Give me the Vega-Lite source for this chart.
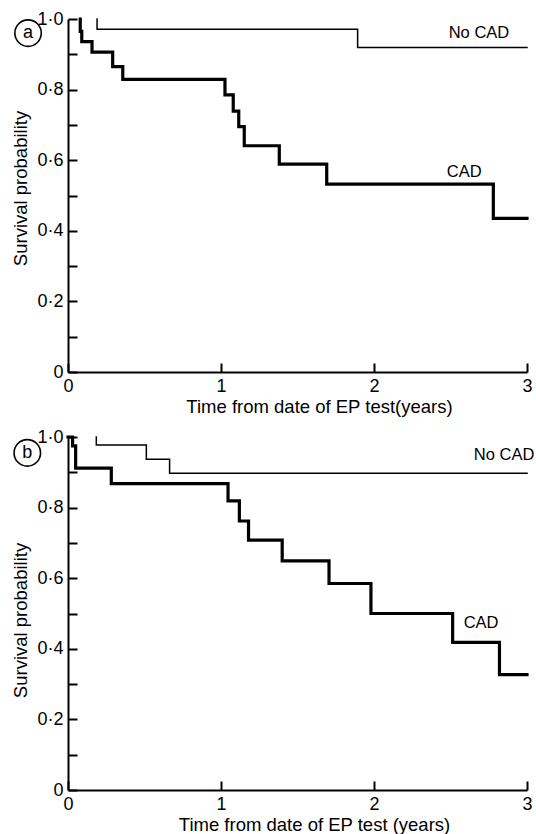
{
  "$schema": "https://vega.github.io/schema/vega-lite/v6.json",
  "background": "white",
  "padding": {"left": 10, "top": 10, "right": 0, "bottom": 0},
  "spacing": 65,
  "bounds": "flush",
  "datasets": {
    "curves": [
      {"panel": "a", "group": "CAD", "t": 0.08, "p": 1.0},
      {"panel": "a", "group": "CAD", "t": 0.08, "p": 0.965},
      {"panel": "a", "group": "CAD", "t": 0.09, "p": 0.936},
      {"panel": "a", "group": "CAD", "t": 0.157, "p": 0.906},
      {"panel": "a", "group": "CAD", "t": 0.292, "p": 0.865},
      {"panel": "a", "group": "CAD", "t": 0.358, "p": 0.829},
      {"panel": "a", "group": "CAD", "t": 1.026, "p": 0.785},
      {"panel": "a", "group": "CAD", "t": 1.08, "p": 0.739},
      {"panel": "a", "group": "CAD", "t": 1.116, "p": 0.695},
      {"panel": "a", "group": "CAD", "t": 1.152, "p": 0.641},
      {"panel": "a", "group": "CAD", "t": 1.381, "p": 0.589},
      {"panel": "a", "group": "CAD", "t": 1.691, "p": 0.532},
      {"panel": "a", "group": "CAD", "t": 2.78, "p": 0.435},
      {"panel": "a", "group": "CAD", "t": 3.0, "p": 0.435},
      {"panel": "a", "group": "No CAD", "t": 0.19, "p": 1.0},
      {"panel": "a", "group": "No CAD", "t": 0.19, "p": 0.971},
      {"panel": "a", "group": "No CAD", "t": 1.893, "p": 0.919},
      {"panel": "a", "group": "No CAD", "t": 3.0, "p": 0.919},
      {"panel": "b", "group": "CAD", "t": 0.0, "p": 1.0},
      {"panel": "b", "group": "CAD", "t": 0.03, "p": 0.975},
      {"panel": "b", "group": "CAD", "t": 0.05, "p": 0.912},
      {"panel": "b", "group": "CAD", "t": 0.283, "p": 0.868},
      {"panel": "b", "group": "CAD", "t": 1.046, "p": 0.819},
      {"panel": "b", "group": "CAD", "t": 1.12, "p": 0.762},
      {"panel": "b", "group": "CAD", "t": 1.18, "p": 0.708},
      {"panel": "b", "group": "CAD", "t": 1.4, "p": 0.649},
      {"panel": "b", "group": "CAD", "t": 1.706, "p": 0.585},
      {"panel": "b", "group": "CAD", "t": 1.98, "p": 0.5},
      {"panel": "b", "group": "CAD", "t": 2.514, "p": 0.418},
      {"panel": "b", "group": "CAD", "t": 2.82, "p": 0.327},
      {"panel": "b", "group": "CAD", "t": 3.0, "p": 0.327},
      {"panel": "b", "group": "No CAD", "t": 0.185, "p": 1.0},
      {"panel": "b", "group": "No CAD", "t": 0.185, "p": 0.977},
      {"panel": "b", "group": "No CAD", "t": 0.512, "p": 0.937},
      {"panel": "b", "group": "No CAD", "t": 0.664, "p": 0.897},
      {"panel": "b", "group": "No CAD", "t": 3.0, "p": 0.897}
    ],
    "labels": [
      {"panel": "a", "label": "No CAD", "t": 2.686, "p": 0.96},
      {"panel": "a", "label": "CAD", "t": 2.59, "p": 0.567},
      {"panel": "b", "label": "No CAD", "t": 2.85, "p": 0.948},
      {"panel": "b", "label": "CAD", "t": 2.7, "p": 0.472}
    ],
    "letters": [
      {"panel": "a", "letter": "a", "t": -0.261, "p": 0.96},
      {"panel": "b", "letter": "b", "t": -0.266, "p": 0.955}
    ]
  },
  "vconcat": [
    {
      "width": 459,
      "height": 353,
      "encoding": {
        "x": {"field": "t", "type": "quantitative", "scale": {"domain": [0, 3], "nice": false, "zero": false},
              "axis": {"values": [0, 1, 2, 3], "format": "d", "tickSize": -9, "labelPadding": 14, "title": "Time from date of EP test(years)", "titlePadding": 2, "titleX": 251}},
        "y": {"field": "p", "type": "quantitative", "scale": {"domain": [0, 1], "nice": false},
              "axis": {"values": [0, 0.1, 0.2, 0.3, 0.4, 0.5, 0.6, 0.7, 0.8, 0.9, 1.0], "tickSize": -9, "labelPadding": 14, "title": "Survival probability", "titlePadding": 6, "titleY": 169,
                       "labelExpr": "datum.value == 0 ? '0' : (round(datum.value * 10) % 2 == 0 ? replace(format(datum.value, '.1f'), '.', '·') : '')"}}
      },
      "layer": [
        {
          "data": {"name": "curves"},
          "transform": [{"filter": "datum.panel == 'a'"}],
          "mark": {"type": "line", "interpolate": "step-after", "color": "black", "strokeCap": "square"},
          "encoding": {
            "detail": {"field": "group"},
            "order": [{"field": "t", "type": "quantitative"}, {"field": "p", "type": "quantitative", "sort": "descending"}],
            "strokeWidth": {"field": "group", "type": "nominal", "scale": {"domain": ["CAD", "No CAD"], "range": [3.2, 1.5]}, "legend": null}
          }
        },
        {
          "data": {"name": "labels"},
          "transform": [{"filter": "datum.panel == 'a'"}],
          "mark": {"type": "text", "fontSize": 16.5, "color": "black", "align": "center", "baseline": "middle"},
          "encoding": {"text": {"field": "label"}}
        },
        {
          "data": {"name": "letters"},
          "transform": [{"filter": "datum.panel == 'a'"}],
          "mark": {"type": "point", "shape": "circle", "filled": false, "size": 700, "color": "black", "strokeWidth": 1.6, "opacity": 1}
        },
        {
          "data": {"name": "letters"},
          "transform": [{"filter": "datum.panel == 'a'"}],
          "mark": {"type": "text", "fontSize": 18, "color": "black", "align": "center", "baseline": "middle"},
          "encoding": {"text": {"field": "letter"}}
        }
      ]
    },
    {
      "width": 459,
      "height": 353,
      "encoding": {
        "x": {"field": "t", "type": "quantitative", "scale": {"domain": [0, 3], "nice": false, "zero": false},
              "axis": {"values": [0, 1, 2, 3], "format": "d", "tickSize": -9, "labelPadding": 14, "title": "Time from date of EP test (years)", "titlePadding": 2, "titleX": 246}},
        "y": {"field": "p", "type": "quantitative", "scale": {"domain": [0, 1], "nice": false},
              "axis": {"values": [0, 0.1, 0.2, 0.3, 0.4, 0.5, 0.6, 0.7, 0.8, 0.9, 1.0], "tickSize": -9, "labelPadding": 14, "title": "Survival probability", "titlePadding": 6, "titleY": 183,
                       "labelExpr": "datum.value == 0 ? '0' : (round(datum.value * 10) % 2 == 0 ? replace(format(datum.value, '.1f'), '.', '·') : '')"}}
      },
      "layer": [
        {
          "data": {"name": "curves"},
          "transform": [{"filter": "datum.panel == 'b'"}],
          "mark": {"type": "line", "interpolate": "step-after", "color": "black", "strokeCap": "square"},
          "encoding": {
            "detail": {"field": "group"},
            "order": [{"field": "t", "type": "quantitative"}, {"field": "p", "type": "quantitative", "sort": "descending"}],
            "strokeWidth": {"field": "group", "type": "nominal", "scale": {"domain": ["CAD", "No CAD"], "range": [3.2, 1.5]}, "legend": null}
          }
        },
        {
          "data": {"name": "labels"},
          "transform": [{"filter": "datum.panel == 'b'"}],
          "mark": {"type": "text", "fontSize": 16.5, "color": "black", "align": "center", "baseline": "middle"},
          "encoding": {"text": {"field": "label"}}
        },
        {
          "data": {"name": "letters"},
          "transform": [{"filter": "datum.panel == 'b'"}],
          "mark": {"type": "point", "shape": "circle", "filled": false, "size": 700, "color": "black", "strokeWidth": 1.6, "opacity": 1}
        },
        {
          "data": {"name": "letters"},
          "transform": [{"filter": "datum.panel == 'b'"}],
          "mark": {"type": "text", "fontSize": 18, "color": "black", "align": "center", "baseline": "middle"},
          "encoding": {"text": {"field": "letter"}}
        }
      ]
    }
  ],
  "config": {
    "view": {"stroke": null},
    "font": "Liberation Sans",
    "axis": {
      "domainColor": "black", "domainWidth": 2, "tickColor": "black", "tickWidth": 2,
      "labelColor": "black", "titleColor": "black", "labelFontSize": 18, "titleFontSize": 18.5,
      "titleFontWeight": "normal", "grid": false, "labelFlush": false, "labelOverlap": false, "labelFont": "Liberation Sans", "titleFont": "Liberation Sans"
    }
  }
}
